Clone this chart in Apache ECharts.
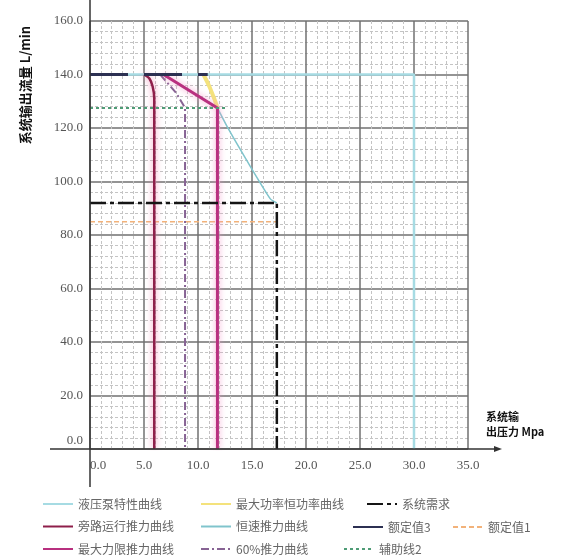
<!DOCTYPE html>
<html>
<head>
<meta charset="utf-8">
<script src="https://cdn.jsdelivr.net/npm/echarts@6/dist/echarts.min.js"></script>
<style>
  html, body { margin: 0; padding: 0; background: #fff; }
  #chart { width: 563px; height: 557px; }
</style>
</head>
<body>
<div id="chart"></div>
<script>
// 坐标轴刻度
const xTicks = [0, 5, 10, 15, 20, 25, 30, 35];
const yTicks = [0, 20, 40, 60, 80, 100, 120, 140, 160];

// 各曲线数据（压力 MPa, 流量 L/min）
const pumpX = [0, 30, 30];
const pumpY = [140, 140, 0];
const maxPowerX = [10.5, 11.0, 11.5, 11.8];
const maxPowerY = [140, 136, 131, 127.5];
const demandX = [0, 17.3, 17.3];
const demandY = [92, 92, 0];
const bypassX = [5.0, 5.5, 5.8, 5.95, 5.95];
const bypassY = [140, 138.5, 135.5, 131, 0];
const constSpeedX = [11.8, 12.7, 14.5, 16.7, 17.3];
const constSpeedY = [127.5, 120.5, 108, 93.5, 92];
const rated3X = [0, 10.9];
const rated3Y = [140, 140];
const rated1X = [0, 17.3];
const rated1Y = [85, 85];
const maxForceX = [6.8, 11.8, 11.8];
const maxForceY = [140, 127.5, 0];
const force60X = [6.5, 8.0, 8.8, 8.8];
const force60Y = [140, 133, 127.5, 0];
const aux2X = [0, 12.5];
const aux2Y = [127.5, 127.5];

const pairs = (xs, ys) => xs.map((x, i) => [x, ys[i]]);

const chart = echarts.init(document.getElementById('chart'), null, { renderer: 'canvas' });

const lineSeries = (name, xs, ys, style, extra) =>
  Object.assign({
    name,
    type: 'line',
    data: pairs(xs, ys),
    symbol: 'none',
    lineStyle: style,
    itemStyle: { color: style.color },
    animation: false,
  }, extra || {});

const legendText = { fontFamily: 'Noto Sans CJK SC', fontSize: 12, color: '#666' };
const legendBase = {
  orient: 'vertical',
  padding: 0,
  itemWidth: 30,
  itemHeight: 12,
  itemGap: 10.5,
  textStyle: legendText,
  itemStyle: { opacity: 0, borderWidth: 0 },
  selectedMode: false,
};

const option = {
  backgroundColor: '#fff',
  grid: { left: 90, top: 21, right: 95, bottom: 108 },
  xAxis: {
    type: 'value',
    min: xTicks[0],
    max: xTicks[xTicks.length - 1],
    interval: 5,
    axisLine: { show: false },
    axisTick: { show: false },
    axisLabel: {
      fontFamily: 'Liberation Serif',
      fontSize: 13,
      color: '#555',
      margin: 10,
      alignMinLabel: 'left',
      formatter: v => v.toFixed(1),
    },
    splitLine: { show: true, lineStyle: { color: '#707070', width: 1.5 } },
    minorTick: { show: false, splitNumber: 5 },
    minorSplitLine: { show: true, lineStyle: { color: '#c4c4c4', type: [3, 2], width: 1 } },
  },
  yAxis: {
    type: 'value',
    min: yTicks[0],
    max: yTicks[yTicks.length - 1],
    interval: 20,
    axisLine: { show: false },
    axisTick: { show: false },
    axisLabel: {
      fontFamily: 'Liberation Serif',
      fontSize: 13,
      color: '#555',
      margin: 7,
      formatter: v => (v === 0 ? '{z|0.0}' : v.toFixed(1)),
      rich: { z: { fontFamily: 'Liberation Serif', fontSize: 13, color: '#555', padding: [0, 0, 16, 0] } },
    },
    splitLine: { show: true, lineStyle: { color: '#707070', width: 1.5 } },
    minorTick: { show: false, splitNumber: 5 },
    minorSplitLine: { show: true, lineStyle: { color: '#c4c4c4', type: [3, 2], width: 1 } },
  },
  legend: [
    Object.assign({}, legendBase, { left: 42, top: 498, data: ['液压泵特性曲线', '旁路运行推力曲线', '最大力限推力曲线'] }),
    Object.assign({}, legendBase, { left: 200, top: 498, data: ['最大功率恒功率曲线', '恒速推力曲线', '60%推力曲线'] }),
    Object.assign({}, legendBase, { left: 366, top: 498, data: ['系统需求'] }),
    Object.assign({}, legendBase, { left: 352, top: 521, data: ['额定值3'] }),
    Object.assign({}, legendBase, { left: 452, top: 521, data: ['额定值1'] }),
    Object.assign({}, legendBase, { left: 343, top: 543, data: ['辅助线2'] }),
  ],
  series: [
    lineSeries('液压泵特性曲线', pumpX, pumpY, { color: '#a6dbe3', width: 2.5 }),
    lineSeries('额定值1', rated1X, rated1Y, { color: '#f2b27a', width: 1.5, type: [5, 3] }),
    lineSeries('最大功率恒功率曲线', maxPowerX, maxPowerY, { color: '#f4e27c', width: 4 }, { smooth: 0.3 }),
    lineSeries('恒速推力曲线', constSpeedX, constSpeedY, { color: '#80c4cc', width: 1.5 }, { smooth: 0.2 }),
    lineSeries('旁路运行推力曲线', bypassX, bypassY,
      { color: '#8e1f4a', width: 2.5, shadowColor: 'rgba(240,120,170,0.9)', shadowBlur: 6 }, { smooth: 0.3 }),
    lineSeries('60%推力曲线', force60X, force60Y, { color: '#876394', width: 2, type: [8, 3, 2, 3] }),
    lineSeries('最大力限推力曲线', maxForceX, maxForceY,
      { color: '#b8307f', width: 3, shadowColor: 'rgba(245,150,200,0.9)', shadowBlur: 6 }),
    lineSeries('辅助线2', aux2X, aux2Y, { color: '#4f9c76', width: 2, type: [3, 3] }),
    lineSeries('系统需求', demandX, demandY, { color: '#151515', width: 2.5, type: [16, 4, 4, 4] }),
    lineSeries('额定值3', rated3X, rated3Y, { color: '#2c3052', width: 3, type: [38, 16] }),
  ],
};

chart.setOption(option);

// 坐标轴（十字交叉、带箭头）和轴标题
const origin = chart.convertToPixel({ gridIndex: 0 }, [0, 0]);
chart.setOption({
  graphic: [
    {
      type: 'line',
      shape: { x1: origin[0], y1: 0, x2: origin[0], y2: origin[1] + 38 },
      style: { stroke: '#333', lineWidth: 1.5 },
      z: 10,
    },
    {
      type: 'line',
      shape: { x1: origin[0] - 40, y1: origin[1], x2: origin[0] + 408, y2: origin[1] },
      style: { stroke: '#333', lineWidth: 1.5 },
      z: 10,
    },
    {
      type: 'polygon',
      shape: { points: [[origin[0] + 412, origin[1]], [origin[0] + 404, origin[1] - 3], [origin[0] + 404, origin[1] + 3]] },
      style: { fill: '#333' },
      z: 10,
    },
    {
      type: 'text',
      x: 25,
      y: 85,
      rotation: Math.PI / 2,
      style: {
        text: '系统输出流量 L/min',
        fontFamily: 'Noto Sans CJK SC',
        fontSize: 13,
        fontWeight: 'bold',
        fill: '#111',
        align: 'center',
        verticalAlign: 'middle',
      },
    },
    {
      type: 'text',
      x: 486,
      y: 409,
      style: {
        text: '系统输\n出压力 Mpa',
        fontFamily: 'Noto Sans CJK SC',
        fontSize: 11,
        fontWeight: 'bold',
        lineHeight: 15,
        fill: '#111',
      },
    },
  ],
});

window.addEventListener('resize', () => chart.resize());
</script>
</body>
</html>
